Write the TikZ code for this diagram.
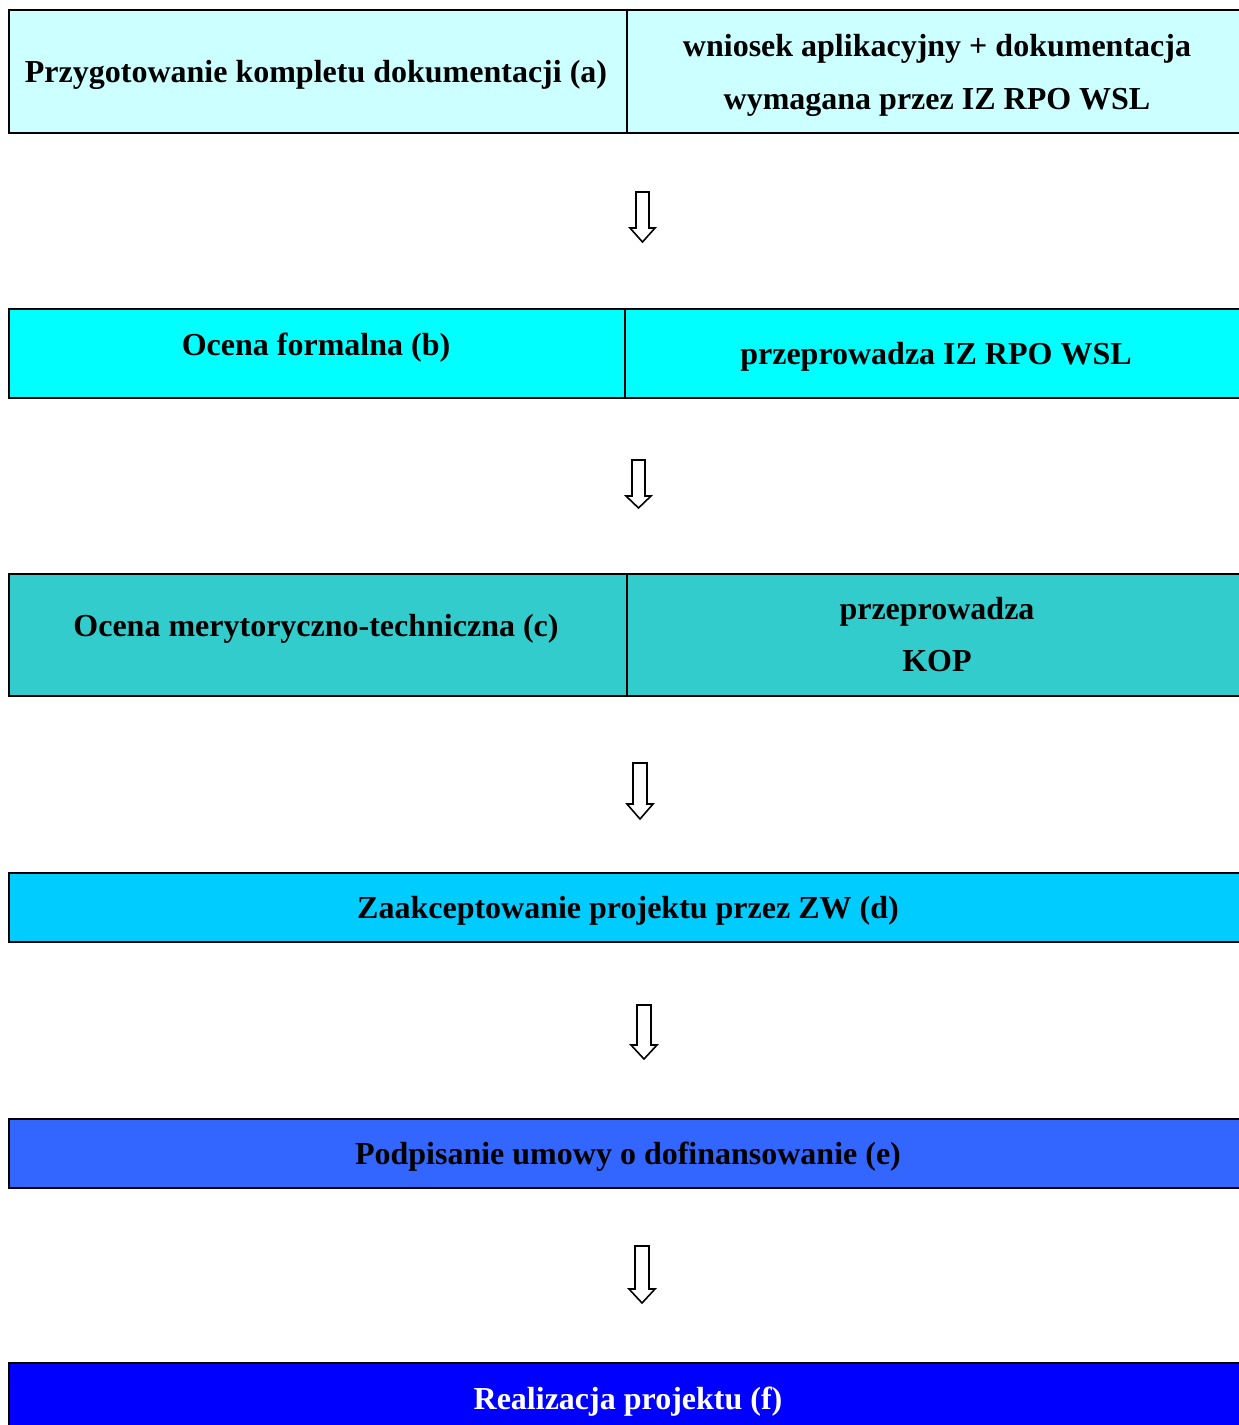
\documentclass[tikz,border=0pt]{standalone}
\usepackage{fontspec}
\setmainfont{Liberation Serif}
\begin{document}
\begin{tikzpicture}[x=1pt,y=-1pt,
  cell/.style={draw=black, line width=2pt, inner sep=0pt, anchor=north west},
  txt/.style={font=\bfseries\fontsize{32}{38}\selectfont, inner sep=0pt, anchor=base},
  blockarrow/.style={draw=black, line width=1.6pt, fill=white, line join=miter}]
\useasboundingbox (0,0) rectangle (1239,1425);
\clip (0,0) rectangle (1239,1425);
\definecolor{ca}{HTML}{CCFFFF}
\definecolor{cb}{HTML}{00FFFF}
\definecolor{cc}{HTML}{33CCCC}
\definecolor{cd}{HTML}{00CCFF}
\definecolor{ce}{HTML}{3366FF}
\definecolor{cf}{HTML}{0000FF}
% row a
\node[cell, fill=ca, minimum width=618pt, minimum height=123pt] (aL) at (8,9) {};
\node[cell, fill=ca, minimum width=622pt, minimum height=123pt] (aR) at (626,9) {};
\node[txt] (taL) at (316,82) {Przygotowanie kompletu dokumentacji (a)};
\node[txt] (taR1) at (937,56) {wniosek aplikacyjny + dokumentacja};
\node[txt] (taR2) at (937,109) {wymagana przez IZ RPO WSL};
% row b
\node[cell, fill=cb, minimum width=616pt, minimum height=89pt] (bL) at (8,308) {};
\node[cell, fill=cb, minimum width=624pt, minimum height=89pt] (bR) at (624,308) {};
\node[txt] (tbL) at (316,355) {Ocena formalna (b)};
\node[txt] (tbR) at (936,364) {przeprowadza IZ RPO WSL};
% row c
\node[cell, fill=cc, minimum width=618pt, minimum height=122pt] (cL) at (8,573) {};
\node[cell, fill=cc, minimum width=622pt, minimum height=122pt] (cR) at (626,573) {};
\node[txt] (tcL) at (316,636) {Ocena merytoryczno-techniczna (c)};
\node[txt] (tcR1) at (937,619) {przeprowadza};
\node[txt] (tcR2) at (937,671) {KOP};
% row d
\node[cell, fill=cd, minimum width=1240pt, minimum height=69pt] (d) at (8,872) {};
\node[txt] (td) at (628,918) {Zaakceptowanie projektu przez ZW (d)};
% row e
\node[cell, fill=ce, minimum width=1240pt, minimum height=69pt] (e) at (8,1118) {};
\node[txt] (te) at (628,1164) {Podpisanie umowy o dofinansowanie (e)};
% row f
\node[cell, fill=cf, minimum width=1240pt, minimum height=90pt] (f) at (8,1362) {};
\node[txt, text=white] (tf) at (628,1409) {Realizacja projektu (f)};
% arrows
\draw[blockarrow] (636,192) -- (649,192) -- (649,228) -- (655,228) -- (642.5,242) -- (630,228) -- (636,228) -- cycle;
\draw[blockarrow] (632,460) -- (645,460) -- (645,496) -- (651,496) -- (638.5,508) -- (626,496) -- (632,496) -- cycle;
\draw[blockarrow] (633,763) -- (647,763) -- (647,804) -- (653,804) -- (640,819) -- (627,804) -- (633,804) -- cycle;
\draw[blockarrow] (637,1005) -- (651,1005) -- (651,1045) -- (657,1045) -- (644,1059) -- (631,1045) -- (637,1045) -- cycle;
\draw[blockarrow] (635,1246) -- (649,1246) -- (649,1289) -- (655,1289) -- (642,1303) -- (629,1289) -- (635,1289) -- cycle;
\end{tikzpicture}
\end{document}
